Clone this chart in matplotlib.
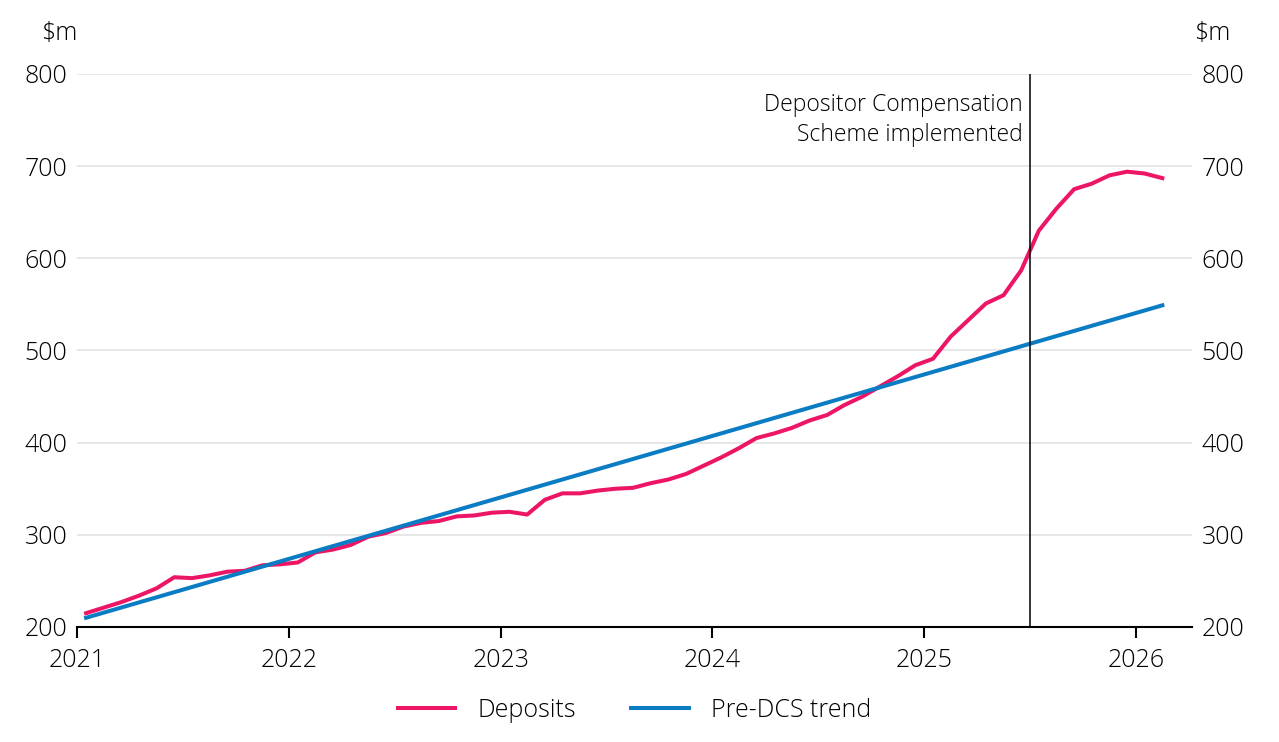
import numpy as np
import matplotlib
matplotlib.use("Agg")
import matplotlib.pyplot as plt

# monthly deposits, Jan 2021 - Feb 2026 ($m)
deposits = [215, 221, 227, 234, 242, 254, 253, 256, 260, 261, 267, 268,
            270, 281, 284, 289, 298, 302, 309, 313, 315, 320, 321, 324,
            325, 322, 338, 345, 345, 348, 350, 351, 356, 360, 366, 375,
            384, 394, 405, 410, 416, 424, 430, 441, 450, 461, 472, 484,
            491, 515, 533, 551, 560, 587, 630, 654, 675, 681, 690, 694,
            692, 687]
# pre-DCS trend: straight line, first and last month
trend_vals = [210, 549]
years = [2021, 2022, 2023, 2024, 2025, 2026]
yticks = [200, 300, 400, 500, 600, 700, 800]
dcs_date = 2025.5

plt.rcParams['font.family'] = ['Open Sans', 'DejaVu Sans']
plt.rcParams['font.weight'] = 'light'

months = np.arange(len(deposits))
x = 2021 + (months + 0.5) / 12
trend_x = [x[0], x[-1]]

red = '#ED1566'
blue = '#0A7CC4'
fs = 18

fig = plt.figure(figsize=(12.79, 7.42), dpi=100)
ax = fig.add_axes([0.0604, 0.155, 0.8714, 0.7453])

for v in yticks[1:]:
    ax.axhline(v, color='#e3e3e3', lw=1.2, zorder=0)

ax.plot(x, deposits, color=red, lw=2.9, label='Deposits', zorder=3)
ax.plot(trend_x, trend_vals, color=blue, lw=2.9, label='Pre-DCS trend', zorder=3)
ax.axvline(dcs_date, color='black', lw=1.1, zorder=4)
ax.text(dcs_date - 0.035, 779, 'Depositor Compensation\nScheme implemented',
        ha='right', va='top', fontsize=16.5, linespacing=1.3)

ax.set_xlim(2021, 2026.264)
ax.set_ylim(200, 800)
ax.set_xticks(years)
ax.set_xticklabels([str(y) for y in years])
ax.set_yticks(yticks)

for s in ['left', 'right', 'top']:
    ax.spines[s].set_visible(False)
ax.spines['bottom'].set_linewidth(1.5)
ax.tick_params(axis='x', length=8, width=1.5, labelsize=fs, pad=7)
ax.tick_params(axis='y', length=0, labelsize=fs, pad=7,
               labelleft=True, labelright=True)

ax.text(-0.016, 1.05, '$m', transform=ax.transAxes, fontsize=fs,
        ha='center', va='bottom')
ax.text(1.018, 1.05, '$m', transform=ax.transAxes, fontsize=fs,
        ha='center', va='bottom')

ax.legend(loc='upper center', bbox_to_anchor=(0.5, -0.088), ncol=2,
          frameon=False, fontsize=fs, handlelength=2.3, columnspacing=2.2,
          handletextpad=0.9)

fig.savefig('out.png', dpi=100)
